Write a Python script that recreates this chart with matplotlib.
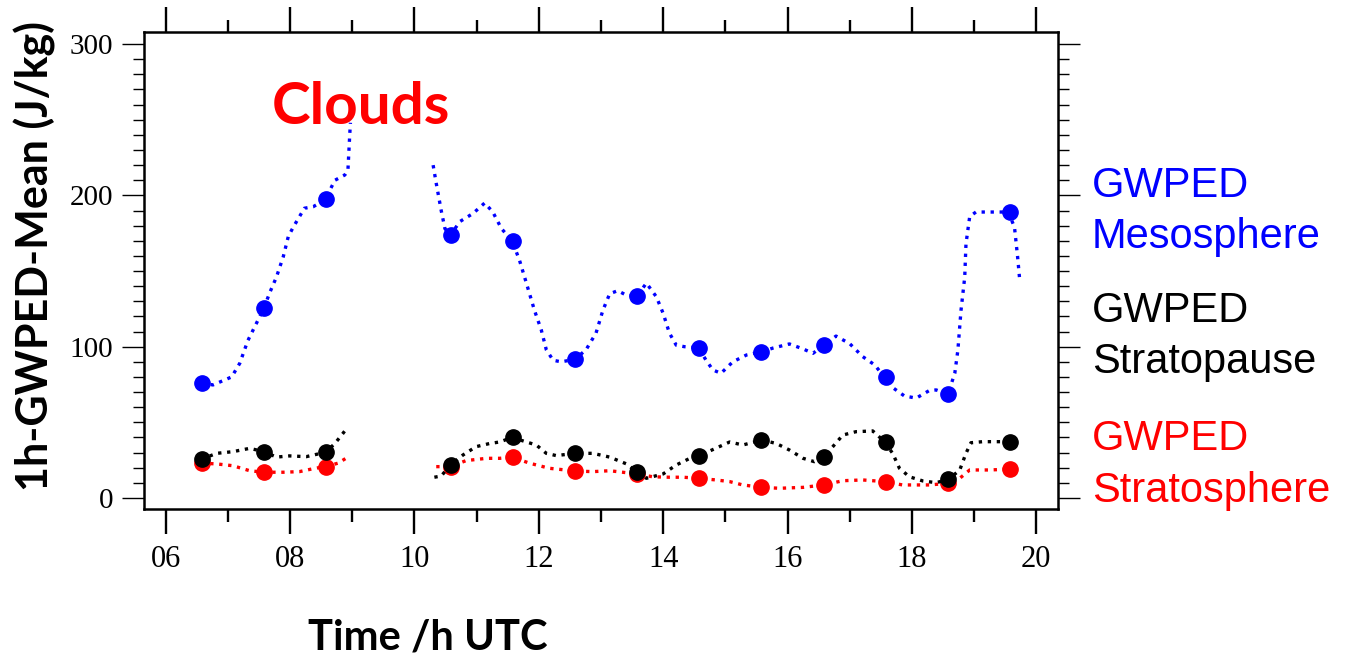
import numpy as np
import matplotlib
matplotlib.use("Agg")
import matplotlib.pyplot as plt
from matplotlib.ticker import MultipleLocator, FuncFormatter

plt.rcParams["font.family"] = ["Liberation Serif", "DejaVu Serif"]

W, H = 1348, 657
nan = np.nan

# hourly means (markers)
t_hour = [6.58, 7.58, 8.58, 10.58, 11.58, 12.58, 13.58, 14.58, 15.58, 16.58, 17.58, 18.58, 19.58]
meso_hour = [76, 125.6, 197.5, 174, 170, 91.6, 133.5, 99.3, 96.7, 101, 79.8, 68.7, 189]
pause_hour = [25.6, 30.6, 30.2, 21.8, 40, 29.5, 17, 27.8, 38.3, 27.3, 37.2, 12.3, 37.2]
strat_hour = [23, 17, 20.7, 20.7, 27, 17.8, 15.9, 13, 7, 8.6, 10.8, 9.7, 19]

# running curves (NaN = gap in data)
meso_t = [6.58, 6.76, 7.06, 7.19, 7.32, 7.46, 7.58, 7.67, 7.78, 7.89, 7.97, 8.05, 8.23, 8.37,
          8.56, 8.72, 8.88, 8.93, 8.96, 8.97, nan,
          10.30, 10.35, 10.43, 10.49, 10.58, 10.73, 10.94, 11.13, 11.26, 11.40, 11.57, 11.69,
          11.80, 11.93, 12.04, 12.12, 12.23, 12.36, 12.58, 12.76, 12.92, 13.03, 13.14, 13.27,
          13.41, 13.58, 13.73, 13.89, 14.00, 14.10, 14.21, 14.34, 14.57, 14.69, 14.80, 14.93,
          15.12, 15.34, 15.59, 15.76, 16.03, 16.25, 16.41, 16.58, 16.78, 17.00, 17.21, 17.40,
          17.56, 17.69, 17.88, 18.07, 18.28, 18.39, 18.58, 18.69, 18.74, 18.79, 18.85, 18.87,
          18.93, 19.03, 19.35, 19.55, 19.65, 19.70, 19.73]
meso_v = [76, 74.7, 80, 89, 104, 115.6, 125.6, 135.5, 146, 159.5, 172.7, 179, 191.5, 192.5,
          197, 210, 213.5, 216.8, 241, 248, nan,
          220, 208, 190, 178, 173.8, 182.7, 188, 195, 189, 178, 170, 157,
          142, 124, 111, 98, 91, 90, 91.6, 98, 109, 124, 135, 137,
          134, 133.5, 142, 133, 122, 109, 101, 100, 99.3, 91, 84.6, 82.4,
          90, 94.5, 96.7, 99, 101.8, 98.5, 95.6, 101, 107, 102, 93.4, 88,
          79.8, 73, 67.4, 66, 71, 71.4, 68.7, 82.4, 97.8, 124, 146, 168,
          186, 189, 189, 189, 179, 159.5, 146]

pause_t = [6.57, 6.82, 7.08, 7.35, 7.58, 7.78, 7.99, 8.26, 8.57, 8.72, 8.85, 8.93, nan,
           10.32, 10.43, 10.58, 10.78, 10.99, 11.21, 11.37, 11.57, 11.80, 11.96, 12.12, 12.28,
           12.59, 12.87, 13.14, 13.41, 13.58, 13.73, 14.00, 14.21, 14.42, 14.57, 14.80, 15.07,
           15.28, 15.59, 15.82, 16.03, 16.25, 16.43, 16.58, 16.73, 16.89, 17.10, 17.37, 17.56,
           17.69, 17.80, 17.96, 18.18, 18.39, 18.59, 18.77, 18.87, 18.95, 19.14, 19.35, 19.55,
           19.68]
pause_v = [25.6, 29.5, 30.6, 32.8, 30.6, 27, 27.8, 27.3, 30.2, 36, 42.7, 47, nan,
           13.7, 14.5, 21.8, 28.4, 33.9, 36, 37, 40, 37, 35, 29.5, 28,
           29.5, 29.5, 27, 22.5, 17, 13, 15.9, 21.8, 26, 27.8, 32, 37,
           35, 38.3, 36, 31.7, 26.2, 24, 27.3, 34, 41.6, 43.8, 44.3, 37.2,
           29.5, 19.6, 14, 11.2, 10.1, 12.3, 18.5, 29.5, 36.5, 37.2, 37.2, 37.2,
           39.4]

strat_t = [6.57, 6.82, 7.08, 7.35, 7.58, 7.89, 8.15, 8.40, 8.57, 8.77, 8.93, nan,
           10.35, 10.58, 10.83, 11.16, 11.37, 11.57, 11.85, 12.17, 12.59, 12.87, 13.14, 13.41,
           13.58, 13.83, 14.10, 14.32, 14.57, 14.85, 15.07, 15.28, 15.59, 15.87, 16.25, 16.58,
           16.89, 17.21, 17.56, 17.85, 18.28, 18.59, 18.77, 18.93, 19.25, 19.55, 19.68]
strat_v = [23, 22.5, 21.3, 18, 17, 17, 17.4, 19.6, 20.7, 23, 27, nan,
           20.7, 20.7, 24.7, 26.2, 26.2, 27, 23, 19.6, 17.8, 17.4, 18, 16.7,
           15.9, 14, 13.7, 13.7, 13, 11.9, 10.8, 8.6, 7, 6.4, 7, 8.6,
           11.4, 11.9, 10.8, 8.6, 8.6, 9.7, 13, 18.5, 18.5, 19, 23.3]

labels = [("GWPED", "Mesosphere"), ("GWPED", "Stratopause"), ("GWPED", "Stratosphere")]
colors = ["#0000ff", "#000000", "#ff0000"]

fig = plt.figure(figsize=(W / 100, H / 100), dpi=100)
ax = fig.add_axes([144 / W, 1 - 509 / H, (1058 - 144) / W, (509 - 32) / H])

dot = (0, (1, 1.7))
series = [(meso_t, meso_v, meso_hour), (pause_t, pause_v, pause_hour), (strat_t, strat_v, strat_hour)]
# draw red first so black sits on top, blue last
for (lt, lv, hv), c in reversed(list(zip(series, colors))):
    ax.plot(lt, lv, color=c, lw=2.4, ls=dot, dash_capstyle="butt")
    ax.plot(t_hour, hv, "o", color=c, ms=11, mec=c, ls="none")

ax.set_xlim(5.65, 20.35)
ax.set_ylim(-7.3, 308)
ax.xaxis.set_major_locator(MultipleLocator(2))
ax.xaxis.set_minor_locator(MultipleLocator(1))
ax.xaxis.set_major_formatter(FuncFormatter(lambda v, p: f"{int(round(v)):02d}"))
ax.yaxis.set_major_locator(MultipleLocator(100))
ax.yaxis.set_minor_locator(MultipleLocator(10))

for s in ax.spines.values():
    s.set_linewidth(1.8)

ax.tick_params(axis="x", which="major", direction="out", top=True, length=18, width=1.7,
               pad=8, labelsize=22)
ax.tick_params(axis="x", which="minor", direction="out", top=True, length=9, width=1.7)
ax.tick_params(axis="y", which="major", direction="out", right=True, length=16, width=1.0,
               pad=6, labelsize=21)
ax.tick_params(axis="y", which="minor", direction="out", right=True, length=8, width=1.0)

fig.text(272 / W, 1 - 108 / H, "Clouds", color="red", fontsize=42,
         fontweight="bold", family="Lato", va="center", ha="left")

fig.text(35 / W, 1 - 256 / H, "1h-GWPED-Mean (J/kg)", rotation=90, fontsize=31,
         fontweight="bold", family="Lato", ha="center", va="center")
fig.text(428 / W, 1 - 637 / H, "Time /h UTC", fontsize=30, fontweight="bold",
         family="Lato", ha="center", va="center")

base = [(197, 248), (322, 373), (450, 502)]
for (l1, l2), (b1, b2), c in zip(labels, base, colors):
    fig.text(1092 / W, 1 - b1 / H, l1, color=c, fontsize=30, family="Liberation Sans",
             va="baseline", ha="left")
    fig.text(1092 / W, 1 - b2 / H, l2, color=c, fontsize=30, family="Liberation Sans",
             va="baseline", ha="left")

fig.savefig("out.png", dpi=100)
